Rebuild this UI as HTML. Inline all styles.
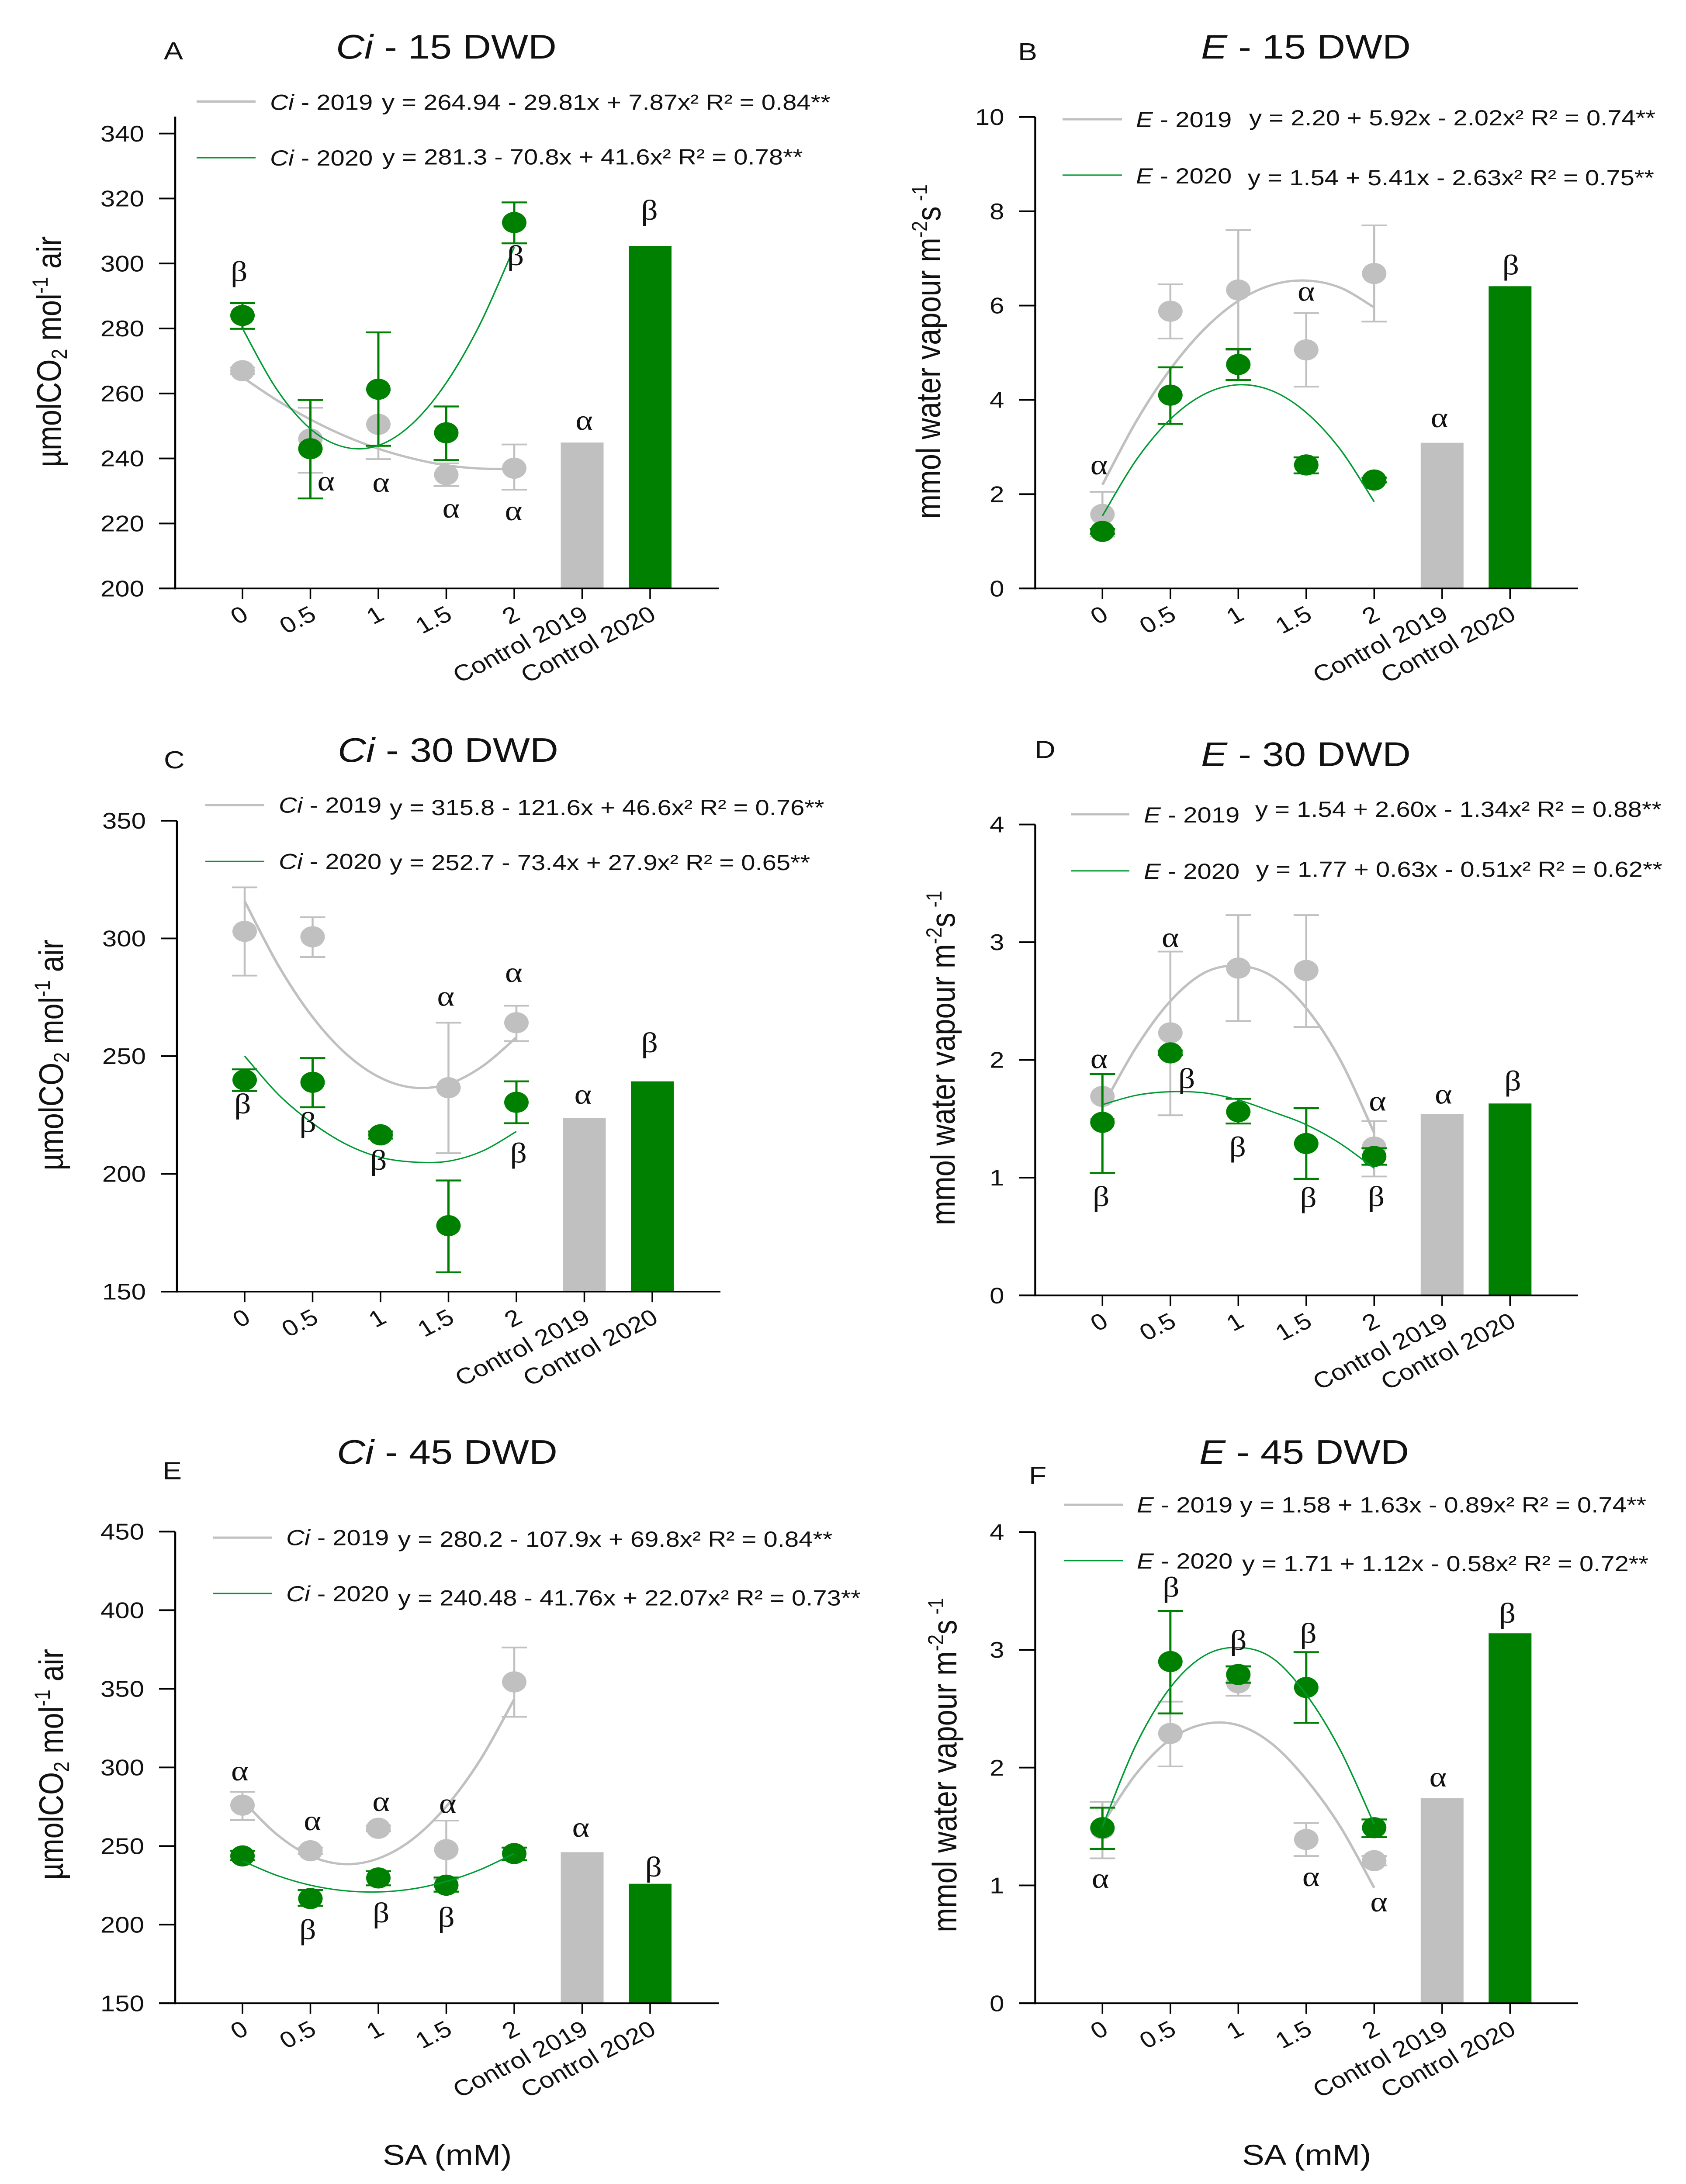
<!DOCTYPE html>
<html lang="en">
<head>
<meta charset="utf-8">
<title>Ci and E by SA dose</title>
<style>
html,body{margin:0;padding:0;background:#fff;width:100%;height:100%;overflow:hidden;}
svg{display:block;width:100vw;height:100vh;}
text{font-family:"Liberation Sans",sans-serif;fill:#111;}
.title{font-size:90px;}
.letter{font-size:66px;}
.axt{font-size:77.5px;}
.leg{font-size:58px;}
.sa{font-size:76px;}
.sup{font-size:50px;}
.tick{font-size:60px;}
.sig{font-family:"Liberation Serif",serif;font-size:76px;text-anchor:middle;}
</style>
</head>
<body>
<svg id="figure" xmlns="http://www.w3.org/2000/svg" viewBox="0 0 3859 5788" preserveAspectRatio="none">
<rect width="3859" height="5788" fill="#fff"/>

<g id="panel-a">
  <text class="letter" x="375" y="157.5">A</text>
  <text class="title" x="769" y="155"><tspan font-style="italic">Ci</tspan> - 15 DWD</text>
  <text class="axt" transform="translate(139,1238) rotate(-90)">µmolCO<tspan class="sup" dy="14">2</tspan><tspan dy="-14"> mol</tspan><tspan class="sup" dy="-30">-1</tspan><tspan dy="30"> air</tspan></text>
  <line x1="450" x2="585" y1="269" y2="269" stroke="#c0c0c0" stroke-width="6"/>
  <text class="leg" x="618" y="291"><tspan font-style="italic">Ci</tspan> - 2019</text>
  <text class="leg" x="874" y="291">y = 264.94 - 29.81x + 7.87x² R² = 0.84**</text>
  <line x1="450" x2="585" y1="418" y2="418" stroke="#009a33" stroke-width="3.5"/>
  <text class="leg" x="618" y="439"><tspan font-style="italic">Ci</tspan> - 2020</text>
  <text class="leg" x="875" y="436">y = 281.3 - 70.8x + 41.6x² R² = 0.78**</text>
</g>

<g id="panel-b">
  <text class="letter" x="2330" y="160">B</text>
  <text class="title" x="2749" y="155"><tspan font-style="italic">E</tspan> - 15 DWD</text>
  <text class="axt" transform="translate(2152,1375) rotate(-90)">mmol water vapour m<tspan class="sup" dy="-30">-2</tspan><tspan dy="30">s</tspan><tspan class="sup" dy="-30"> -1</tspan></text>
  <line x1="2432" x2="2568" y1="316" y2="316" stroke="#c0c0c0" stroke-width="6"/>
  <text class="leg" x="2600" y="337"><tspan font-style="italic">E</tspan> - 2019</text>
  <text class="leg" x="2859" y="332">y = 2.20 + 5.92x - 2.02x²  R² = 0.74**</text>
  <line x1="2432" x2="2568" y1="464" y2="464" stroke="#009a33" stroke-width="3.5"/>
  <text class="leg" x="2600" y="486"><tspan font-style="italic">E</tspan> - 2020</text>
  <text class="leg" x="2856" y="491">y = 1.54 + 5.41x - 2.63x²  R² = 0.75**</text>
</g>

<g id="panel-c">
  <text class="letter" x="375" y="2036">C</text>
  <text class="title" x="773" y="2019"><tspan font-style="italic">Ci</tspan> - 30 DWD</text>
  <text class="axt" transform="translate(144,3102) rotate(-90)">µmolCO<tspan class="sup" dy="14">2</tspan><tspan dy="-14"> mol</tspan><tspan class="sup" dy="-30">-1</tspan><tspan dy="30"> air</tspan></text>
  <line x1="470" x2="605" y1="2134" y2="2134" stroke="#c0c0c0" stroke-width="6"/>
  <text class="leg" x="638" y="2154"><tspan font-style="italic">Ci</tspan> - 2019</text>
  <text class="leg" x="892" y="2160">y = 315.8 - 121.6x + 46.6x² R² = 0.76**</text>
  <line x1="470" x2="605" y1="2283" y2="2283" stroke="#009a33" stroke-width="3.5"/>
  <text class="leg" x="638" y="2303"><tspan font-style="italic">Ci</tspan> - 2020</text>
  <text class="leg" x="892" y="2306">y = 252.7 - 73.4x + 27.9x² R² = 0.65**</text>
</g>

<g id="panel-d">
  <text class="letter" x="2368" y="2009">D</text>
  <text class="title" x="2749" y="2030"><tspan font-style="italic">E</tspan> - 30 DWD</text>
  <text class="axt" transform="translate(2185,3247) rotate(-90)">mmol water vapour m<tspan class="sup" dy="-30">-2</tspan><tspan dy="30">s</tspan><tspan class="sup" dy="-30"> -1</tspan></text>
  <line x1="2451" x2="2585" y1="2158" y2="2158" stroke="#c0c0c0" stroke-width="6"/>
  <text class="leg" x="2618" y="2180"><tspan font-style="italic">E</tspan> - 2019</text>
  <text class="leg" x="2873" y="2165">y = 1.54 + 2.60x - 1.34x² R² = 0.88**</text>
  <line x1="2451" x2="2585" y1="2308" y2="2308" stroke="#009a33" stroke-width="3.5"/>
  <text class="leg" x="2618" y="2329"><tspan font-style="italic">E</tspan> - 2020</text>
  <text class="leg" x="2875" y="2324">y = 1.77 + 0.63x - 0.51x² R² = 0.62**</text>
</g>

<g id="panel-e">
  <text class="letter" x="372" y="3920">E</text>
  <text class="title" x="771" y="3879"><tspan font-style="italic">Ci</tspan> - 45 DWD</text>
  <text class="axt" transform="translate(144,4982) rotate(-90)">µmolCO<tspan class="sup" dy="14">2</tspan><tspan dy="-14"> mol</tspan><tspan class="sup" dy="-30">-1</tspan><tspan dy="30"> air</tspan></text>
  <line x1="487" x2="622" y1="4075" y2="4075" stroke="#c0c0c0" stroke-width="6"/>
  <text class="leg" x="655" y="4095"><tspan font-style="italic">Ci</tspan> - 2019</text>
  <text class="leg" x="911" y="4099">y = 280.2 - 107.9x + 69.8x² R² = 0.84**</text>
  <line x1="487" x2="622" y1="4223" y2="4223" stroke="#009a33" stroke-width="3.5"/>
  <text class="leg" x="655" y="4244"><tspan font-style="italic">Ci</tspan> - 2020</text>
  <text class="leg" x="911" y="4255">y = 240.48 - 41.76x + 22.07x² R² = 0.73**</text>
  <text class="sa" x="876" y="5737">SA (mM)</text>
</g>

<g id="panel-f">
  <text class="letter" x="2355" y="3933">F</text>
  <text class="title" x="2745" y="3879"><tspan font-style="italic">E</tspan> - 45 DWD</text>
  <text class="axt" transform="translate(2189,5121) rotate(-90)">mmol water vapour m<tspan class="sup" dy="-30">-2</tspan><tspan dy="30">s</tspan><tspan class="sup" dy="-30"> -1</tspan></text>
  <line x1="2435" x2="2570" y1="3988" y2="3988" stroke="#c0c0c0" stroke-width="6"/>
  <text class="leg" x="2602" y="4008"><tspan font-style="italic">E</tspan> - 2019</text>
  <text class="leg" x="2838" y="4008">y = 1.58 + 1.63x - 0.89x² R² = 0.74**</text>
  <line x1="2435" x2="2570" y1="4136" y2="4136" stroke="#009a33" stroke-width="3.5"/>
  <text class="leg" x="2602" y="4157"><tspan font-style="italic">E</tspan> - 2020</text>
  <text class="leg" x="2843" y="4164">y = 1.71 + 1.12x - 0.58x²  R² = 0.72**</text>
  <text class="sa" x="2843" y="5737">SA (mM)</text>
</g>
</svg>

<script>
/* shared categories */
const categories = ['0', '0.5', '1', '1.5', '2', 'Control 2019', 'Control 2020'];
const trendDoses = [0, 0.25, 0.5, 0.75, 1, 1.25, 1.5, 1.75, 2];

/* Panel A: Ci 15 DWD */
const aTicks = [200, 220, 240, 260, 280, 300, 320, 340];
const aMean2019 = [267, 246, 250.5, 235, 237];
const aHigh2019 = [268, 255.6, 261, 238.5, 244.3];
const aLow2019 = [266, 235.6, 239.8, 231.5, 230.4];
const aMean2020 = [284, 243, 261.3, 247.9, 312.6];
const aHigh2020 = [287.8, 258, 278.8, 256, 318.8];
const aLow2020 = [279.9, 227.7, 243.9, 239.5, 306.2];
const aControls = [244.9, 305.4];
const aTrend2019 = [265, 258, 252, 247, 243, 240, 237.9, 236.9, 236.8];
const aTrend2020 = [280, 261.4, 249.1, 243.5, 244, 250.7, 263.3, 281.5, 305];
const aSigPos = [-0.05, 4.02, 5.99, 1.23, 2.04, 3.07, 3.99, 5.03];
const aSigVal = [294.6, 299.5, 313.5, 230.1, 229.7, 221.8, 221, 248.8];
const aSigText = ['β', 'β', 'β', 'α', 'α', 'α', 'α', 'α'];

/* Panel B: E 15 DWD */
const bTicks = [0, 2, 4, 6, 8, 10];
const bMean2019 = [1.57, 5.88, 6.33, 5.06, 6.68];
const bHigh2019 = [2.05, 6.45, 7.6, 5.84, 7.7];
const bLow2019 = [1.1, 5.3, 5.05, 4.28, 5.66];
const bMean2020 = [1.21, 4.1, 4.75, 2.62, 2.3];
const bHigh2020 = [1.26, 4.69, 5.08, 2.78, 2.35];
const bLow2020 = [1.16, 3.49, 4.42, 2.44, 2.25];
const bControls = [3.09, 6.41];
const bTrend2019 = [2.2, 3.55, 4.65, 5.5, 6.1, 6.44, 6.53, 6.38, 5.96];
const bTrend2020 = [1.54, 2.73, 3.59, 4.12, 4.32, 4.19, 3.73, 2.95, 1.84];
const bSigPos = [-0.05, 3, 4.96, 6.01];
const bSigVal = [2.42, 6.1, 3.42, 6.66];
const bSigText = ['α', 'α', 'α', 'β'];

/* Panel C: Ci 30 DWD */
const cTicks = [150, 200, 250, 300, 350];
const cMean2019 = [303, 300.7, 216.5, 236.6, 264.2];
const cHigh2019 = [321.7, 309, 218, 264.2, 271.4];
const cLow2019 = [284.2, 292.1, 215, 208.8, 256.4];
const cMean2020 = [239.9, 238.9, 216.6, 178, 230.4];
const cHigh2020 = [244.4, 249.2, 218, 197.2, 239.3];
const cLow2020 = [235.2, 228.3, 215, 158.2, 221.5];
const cControls = [223.8, 239.3];
const cTrend2019 = [315.8, 288.3, 266.6, 250.8, 240.8, 236.6, 238.2, 245.7, 258];
const cTrend2020 = [250, 233.6, 221.5, 212.5, 207, 205, 205.4, 209.7, 218];
const cSigPos = [2.96, 3.96, 4.98, 5.96, -0.03, 0.93, 1.97, 4.03];
const cSigVal = [271.4, 281.5, 229.8, 251.7, 225.7, 217.8, 201.8, 204.8];
const cSigText = ['α', 'α', 'α', 'β', 'β', 'β', 'β', 'β'];

/* Panel D: E 30 DWD */
const dTicks = [0, 1, 2, 3, 4];
const dMean2019 = [1.69, 2.23, 2.78, 2.76, 1.26];
const dHigh2019 = [1.88, 2.92, 3.23, 3.23, 1.48];
const dLow2019 = [1.5, 1.53, 2.33, 2.28, 1.01];
const dMean2020 = [1.47, 2.06, 1.56, 1.29, 1.18];
const dHigh2020 = [1.88, 2.08, 1.67, 1.59, 1.25];
const dLow2020 = [1.04, 2.04, 1.46, 0.99, 1.11];
const dControls = [1.54, 1.63];
const dTrend2019 = [1.6, 2.11, 2.5, 2.74, 2.8, 2.71, 2.44, 2, 1.38];
const dTrend2020 = [1.62, 1.7, 1.73, 1.72, 1.66, 1.56, 1.45, 1.29, 1.08];
const dSigPos = [-0.05, 1, 4.05, 5.02, 1.24, 1.99, -0.02, 3.03, 4.03, 6.04];
const dSigVal = [1.93, 2.96, 1.57, 1.63, 1.76, 1.18, 0.76, 0.75, 0.76, 1.74];
const dSigText = ['α', 'α', 'α', 'α', 'β', 'β', 'β', 'β', 'β', 'β'];

/* Panel E: Ci 45 DWD */
const eTicks = [150, 200, 250, 300, 350, 400, 450];
const eMean2019 = [276, 247, 261.3, 247.7, 354.4];
const eHigh2019 = [284.5, 249, 263, 266.2, 376.3];
const eLow2019 = [266.5, 245, 259.5, 229, 332.2];
const eMean2020 = [243.7, 216.6, 229.7, 225.1, 245.2];
const eHigh2020 = [247, 222, 234, 230, 249];
const eLow2020 = [241, 212, 225, 221, 241];
const eControls = [246.1, 226];
const eTrend2019 = [279, 257.6, 243.7, 238.5, 242.1, 254.2, 275.2, 304.8, 343.4];
const eTrend2020 = [240.5, 231.4, 225.1, 221.6, 220.8, 222.7, 227.5, 235, 245.3];
const eSigPos = [-0.04, 1.03, 2.04, 3.02, 4.98, 0.96, 2.04, 3, 6.05];
const eSigVal = [291.8, 260.1, 272.3, 271.1, 255.9, 190.8, 201.4, 198.7, 230.6];
const eSigText = ['α', 'α', 'α', 'α', 'α', 'β', 'β', 'β', 'β'];

/* Panel F: E 45 DWD */
const fTicks = [0, 1, 2, 3, 4];
const fMean2019 = [1.48, 2.29, 2.72, 1.39, 1.21];
const fHigh2019 = [1.71, 2.56, 2.85, 1.53, 1.25];
const fLow2019 = [1.23, 2.01, 2.61, 1.25, 1.17];
const fMean2020 = [1.49, 2.9, 2.79, 2.68, 1.49];
const fHigh2020 = [1.66, 3.33, 2.86, 2.98, 1.56];
const fLow2020 = [1.31, 2.46, 2.72, 2.38, 1.41];
const fControls = [1.74, 3.14];
const fTrend2019 = [1.52, 1.95, 2.24, 2.37, 2.36, 2.2, 1.9, 1.5, 0.98];
const fTrend2020 = [1.5, 2.2, 2.68, 2.95, 3.02, 2.93, 2.62, 2.15, 1.52];
const fSigPos = [-0.03, 3.07, 4.07, 4.94, 1.01, 2, 3.03, 5.96];
const fSigVal = [0.98, 0.995, 0.78, 1.84, 3.45, 3, 3.06, 3.23];
const fSigText = ['α', 'α', 'α', 'α', 'β', 'β', 'β', 'β'];

const NS = 'http://www.w3.org/2000/svg';
const GRAY = '#c0c0c0';
const GREEN = '#008000';
const TREND_GREEN = '#009a33';

function make(parent, tag, attrs) {
  const node = document.createElementNS(NS, tag);
  for (const k in attrs) node.setAttribute(k, attrs[k]);
  parent.appendChild(node);
  return node;
}

function smoothPath(pts) {
  let d = 'M' + pts[0][0] + ' ' + pts[0][1];
  for (let i = 0; i < pts.length - 1; i++) {
    const p0 = pts[Math.max(i - 1, 0)];
    const p1 = pts[i];
    const p2 = pts[i + 1];
    const p3 = pts[Math.min(i + 2, pts.length - 1)];
    d += ' C' + (p1[0] + (p2[0] - p0[0]) / 6) + ' ' + (p1[1] + (p2[1] - p0[1]) / 6) + ' ' +
      (p2[0] - (p3[0] - p1[0]) / 6) + ' ' + (p2[1] - (p3[1] - p1[1]) / 6) + ' ' + p2[0] + ' ' + p2[1];
  }
  return d;
}

function drawSeries(g, xPos, yPos, mean, high, low, color, year, errW, capW) {
  mean.forEach(function (m, i) {
    const cx = xPos(i);
    const top = yPos(high[i]);
    const bot = yPos(low[i]);
    let el = make(g, 'line', {x1: cx, x2: cx, y1: top, y2: bot, stroke: color, 'stroke-width': errW});
    
    
    el = make(g, 'line', {x1: cx - 29, x2: cx + 29, y1: top, y2: top, stroke: color, 'stroke-width': capW});
    
    
    el = make(g, 'line', {x1: cx - 29, x2: cx + 29, y1: bot, y2: bot, stroke: color, 'stroke-width': capW});
    
    
    el = make(g, 'circle', {cx: cx, cy: yPos(m), r: 28, fill: color});
    
    
  });
}

function drawTrend(g, xPos, yPos, values, color, width, year) {
  const pts = values.map(function (v, i) {
    return [xPos(trendDoses[i] * 2), yPos(v)];
  });
  const el = make(g, 'path', {d: smoothPath(pts), fill: 'none', stroke: color, 'stroke-width': width});
  
  
}

function drawPanel(id, L, D) {
  const root = document.getElementById(id);
  const g = make(root, 'g', {});
  
  
  const tickMin = D.ticks[0];
  const tickMax = D.ticks[D.ticks.length - 1];
  const yPos = function (v) { return L.yBase - (v - tickMin) / (tickMax - tickMin) * (L.yBase - L.yTop); };
  const xPos = function (i) { return L.x0 + L.step * i; };

  D.controls.forEach(function (v, i) {
    const cx = xPos(5 + i);
    const el = make(g, 'rect', {x: cx - 49, y: yPos(v), width: 98, height: L.yBase - yPos(v), fill: i ? GREEN : GRAY});
    
    
  });

  let ax = make(g, 'line', {x1: L.axisX, x2: L.axisX, y1: L.axisTop, y2: L.yBase + 2.5, stroke: '#000', 'stroke-width': 4.5});
  
  
  ax = make(g, 'line', {x1: L.axisX - 37, x2: L.axisEnd, y1: L.yBase, y2: L.yBase, stroke: '#000', 'stroke-width': 4.5});
  
  

  D.ticks.forEach(function (t) {
    const y = yPos(t);
    const mark = make(g, 'line', {x1: L.axisX - 37, x2: L.axisX, y1: y, y2: y, stroke: '#000', 'stroke-width': 4.5});
    
    
    const lab = make(g, 'text', {x: L.axisX - 71, y: y + 21, 'text-anchor': 'end', class: 'tick'});
    
    
    lab.textContent = t;
  });

  categories.forEach(function (c, i) {
    const x = xPos(i);
    const mark = make(g, 'line', {x1: x, x2: x, y1: L.yBase, y2: L.yBase + 28, stroke: '#000', 'stroke-width': 3.5});
    
    
    const lab = make(g, 'text', {
      transform: 'translate(' + (x + 17) + ',' + (L.yBase + 80) + ') rotate(-30)',
      'text-anchor': 'end',
      class: 'tick'
    });
    
    
    lab.textContent = c;
  });

  drawSeries(g, xPos, yPos, D.mean2019, D.high2019, D.low2019, GRAY, '2019', 4.5, 4.5);
  drawTrend(g, xPos, yPos, D.trend2019, GRAY, 6, '2019');
  drawSeries(g, xPos, yPos, D.mean2020, D.high2020, D.low2020, GREEN, '2020', 5, 5);
  drawTrend(g, xPos, yPos, D.trend2020, TREND_GREEN, 3.5, '2020');

  D.sigText.forEach(function (s, i) {
    const lab = make(g, 'text', {x: xPos(D.sigPos[i]), y: yPos(D.sigVal[i]), class: 'sig'});
    
    
    lab.textContent = s;
  });
}

drawPanel('panel-a',
  {axisX: 401, axisTop: 309, axisEnd: 1645, x0: 555, step: 155.5, yBase: 1559.5, yTop: 353.8},
  {ticks: aTicks, mean2019: aMean2019, high2019: aHigh2019, low2019: aLow2019, mean2020: aMean2020, high2020: aHigh2020, low2020: aLow2020, controls: aControls, trend2019: aTrend2019, trend2020: aTrend2020, sigPos: aSigPos, sigVal: aSigVal, sigText: aSigText});
drawPanel('panel-b',
  {axisX: 2369.5, axisTop: 310, axisEnd: 3612, x0: 2523.3, step: 155.5, yBase: 1559.5, yTop: 310},
  {ticks: bTicks, mean2019: bMean2019, high2019: bHigh2019, low2019: bLow2019, mean2020: bMean2020, high2020: bHigh2020, low2020: bLow2020, controls: bControls, trend2019: bTrend2019, trend2020: bTrend2020, sigPos: bSigPos, sigVal: bSigVal, sigText: bSigText});
drawPanel('panel-c',
  {axisX: 405, axisTop: 2175, axisEnd: 1649, x0: 560, step: 155.5, yBase: 3423, yTop: 2175},
  {ticks: cTicks, mean2019: cMean2019, high2019: cHigh2019, low2019: cLow2019, mean2020: cMean2020, high2020: cHigh2020, low2020: cLow2020, controls: cControls, trend2019: cTrend2019, trend2020: cTrend2020, sigPos: cSigPos, sigVal: cSigVal, sigText: cSigText});
drawPanel('panel-d',
  {axisX: 2369.5, axisTop: 2185, axisEnd: 3612, x0: 2523.3, step: 155.5, yBase: 3433, yTop: 2185},
  {ticks: dTicks, mean2019: dMean2019, high2019: dHigh2019, low2019: dLow2019, mean2020: dMean2020, high2020: dHigh2020, low2020: dLow2020, controls: dControls, trend2019: dTrend2019, trend2020: dTrend2020, sigPos: dSigPos, sigVal: dSigVal, sigText: dSigText});
drawPanel('panel-e',
  {axisX: 401, axisTop: 4059, axisEnd: 1645, x0: 555, step: 155.5, yBase: 5309, yTop: 4059},
  {ticks: eTicks, mean2019: eMean2019, high2019: eHigh2019, low2019: eLow2019, mean2020: eMean2020, high2020: eHigh2020, low2020: eLow2020, controls: eControls, trend2019: eTrend2019, trend2020: eTrend2020, sigPos: eSigPos, sigVal: eSigVal, sigText: eSigText});
drawPanel('panel-f',
  {axisX: 2369.5, axisTop: 4060, axisEnd: 3612, x0: 2523.3, step: 155.5, yBase: 5309, yTop: 4060},
  {ticks: fTicks, mean2019: fMean2019, high2019: fHigh2019, low2019: fLow2019, mean2020: fMean2020, high2020: fHigh2020, low2020: fLow2020, controls: fControls, trend2019: fTrend2019, trend2020: fTrend2020, sigPos: fSigPos, sigVal: fSigVal, sigText: fSigText});
</script>
</body>
</html>
